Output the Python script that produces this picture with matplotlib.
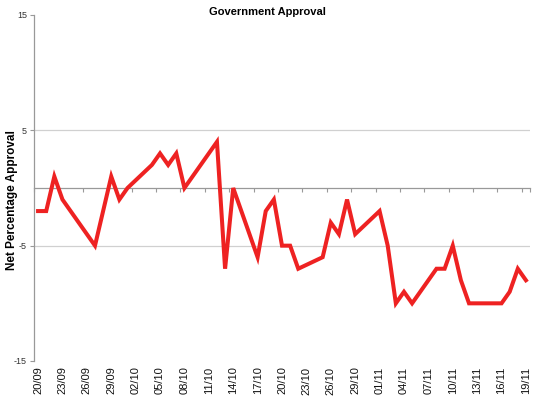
import matplotlib
matplotlib.use("Agg")
import matplotlib.pyplot as plt
import pandas as pd

plt.rcParams["font.family"] = ["Liberation Sans", "DejaVu Sans"]

# poll dates (day/month) and net approval
dates = ["20/09", "21/09", "22/09", "23/09", "27/09", "29/09", "30/09", "01/10",
         "04/10", "05/10", "06/10", "07/10", "08/10", "12/10", "13/10", "14/10",
         "17/10", "18/10", "19/10", "20/10", "21/10", "22/10", "25/10", "26/10",
         "27/10", "28/10", "29/10", "01/11", "02/11", "03/11", "04/11", "05/11",
         "08/11", "09/11", "10/11", "11/11", "12/11", "16/11", "17/11", "18/11",
         "19/11"]
approval = [-2, -2, 1, -1, -5, 1, -1, 0,
            2, 3, 2, 3, 0, 4, -7, 0,
            -6, -2, -1, -5, -5, -7, -6, -3,
            -4, -1, -4, -2, -5, -10, -9, -10,
            -7, -7, -5, -8, -10, -10, -9, -7,
            -8]
y_ticks = [-15, -5, 5, 15]

dt = pd.to_datetime([d + "/2010" for d in dates], format="%d/%m/%Y")
start = dt[0]
x = [(d - start).days for d in dt]
ndays = x[-1]

label_pos = list(range(0, ndays + 1, 3))
label_txt = [(start + pd.Timedelta(days=p)).strftime("%d/%m") for p in label_pos]
tick_marks = [p - 0.5 for p in label_pos] + [ndays + 0.5]

fig = plt.figure(figsize=(5.5, 4), dpi=100)
ax = fig.add_axes([34 / 550, 1 - 361 / 400, 496 / 550, 346 / 400])

ax.set_xlim(-0.5, ndays + 0.5)
ax.set_ylim(-15, 15)

for g in [-5, 5]:
    ax.axhline(g, color="#d0d0d0", lw=0.9, zorder=1)

ax.plot(x, approval, color="#ee2222", lw=2.9, solid_joinstyle="miter", zorder=3)

ax.set_yticks(y_ticks)
ax.set_yticklabels([str(v) for v in y_ticks], fontsize=6.5, color="#333333")
ax.tick_params(axis="y", length=3, width=0.8, color="#999999", pad=2)

ax.set_xticks(label_pos)
ax.set_xticklabels(label_txt, rotation=90, fontsize=8, color="#111111")
ax.tick_params(axis="x", length=0, pad=4)

for s in ["top", "right", "bottom"]:
    ax.spines[s].set_visible(False)
ax.spines["left"].set_color("#999999")
ax.spines["left"].set_linewidth(0.9)

# category axis crossing at zero with tick marks pointing down
sec = ax.secondary_xaxis(0.5)
sec.set_xticks(tick_marks)
sec.set_xticklabels([""] * len(tick_marks))
sec.xaxis.set_ticks_position("bottom")
sec.tick_params(axis="x", which="both", bottom=True, top=False,
                length=3, width=0.8, color="#999999", direction="out")
for sp in sec.spines.values():
    sp.set_color("#999999")
    sp.set_linewidth(0.9)
sec.set_zorder(2)

fig.text(267 / 550, 1 - 12 / 400, "Government Approval", fontsize=8,
         fontweight="bold", ha="center", va="center")
fig.text(12 / 550, 1 - 200 / 400, "Net Percentage Approval", fontsize=8.5,
         fontweight="bold", ha="center", va="center", rotation=90)

fig.savefig("out.png", dpi=100)
